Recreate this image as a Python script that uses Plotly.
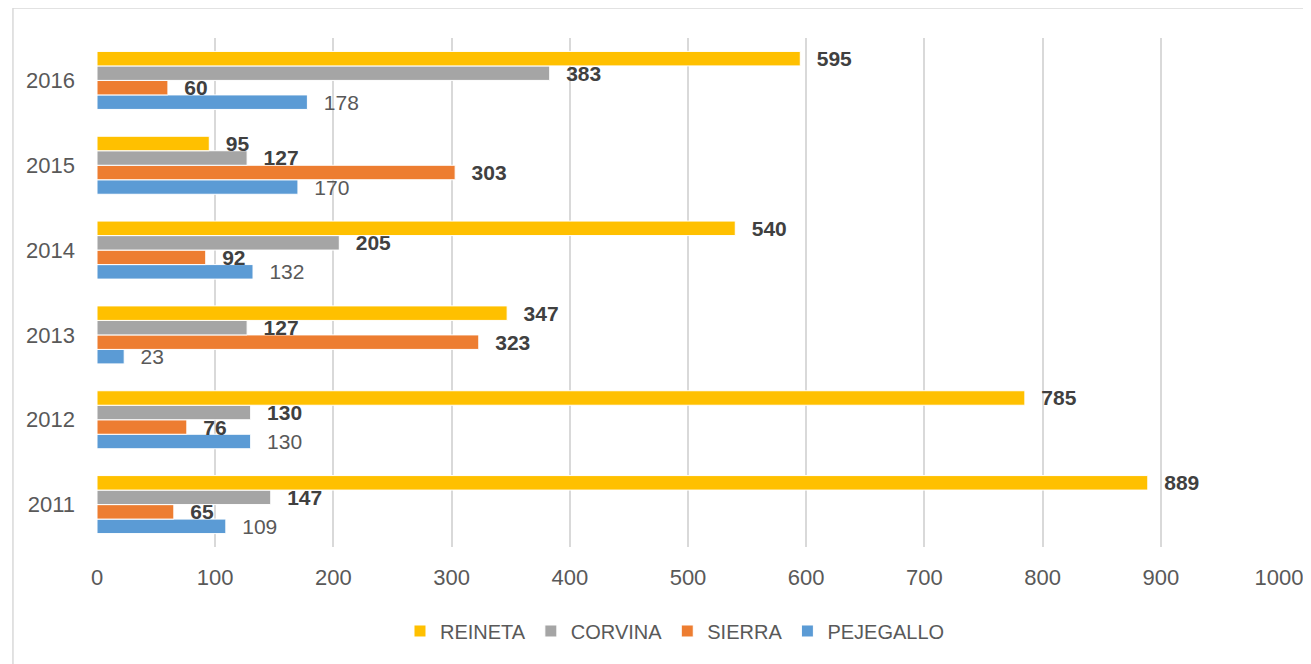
import plotly.graph_objects as go

years = ["2011", "2012", "2013", "2014", "2015", "2016"]
reineta = [889, 785, 347, 540, 95, 595]
corvina = [147, 130, 127, 205, 127, 383]
sierra = [65, 76, 323, 92, 303, 60]
pejegallo = [109, 130, 23, 132, 170, 178]
x_ticks = [0, 100, 200, 300, 400, 500, 600, 700, 800, 900, 1000]

FONT = "Liberation Sans Narrow, Arial Narrow, Liberation Sans, Arial, sans-serif"
PAD = "\u00a0\u00a0\u200a"

series = [
    ("PEJEGALLO", pejegallo, "#5B9BD5", False),
    ("SIERRA", sierra, "#ED7D31", True),
    ("CORVINA", corvina, "#A5A5A5", True),
    ("REINETA", reineta, "#FFC000", True),
]

fig = go.Figure()
for name, vals, color, bold in series:
    labels = [PAD + (f"<b>{v}</b>" if bold else str(v)) for v in vals]
    fig.add_trace(go.Bar(
        name=name, y=years, x=vals, orientation="h",
        marker=dict(color=color, line=dict(color="white", width=1)),
        text=labels, textposition="outside", constraintext="none",
        cliponaxis=False,
        textfont=dict(family=FONT, size=21, color="#404040" if bold else "#595959"),
    ))

fig.update_layout(
    width=1311, height=664,
    barmode="group", bargap=0.316, bargroupgap=0,
    paper_bgcolor="white", plot_bgcolor="white",
    margin=dict(l=89, r=40, t=30, b=125),
    font=dict(family=FONT, size=21, color="#595959"),
    showlegend=True,
    legend=dict(orientation="h", traceorder="reversed", x=0.489, xanchor="center",
                y=-0.165, yanchor="middle", font=dict(size=20, color="#595959"),
                itemwidth=30),
    xaxis=dict(range=[0, 1000], tickvals=x_ticks, showgrid=True, gridcolor="#D9D9D9",
               gridwidth=1.5, zeroline=False, showline=False, ticklabelstandoff=15,
               automargin=False, tickfont=dict(size=22)),
    yaxis=dict(categoryorder="array", categoryarray=years, showgrid=False,
               zeroline=False, showline=False, ticklabelstandoff=21,
               automargin=False, tickfont=dict(size=22)),
    shapes=[dict(type="rect", xref="paper", yref="paper", x0=-0.0711, x1=1.05,
                 y0=-0.3, y1=1.059, line=dict(color="#D9D9D9", width=1.5),
                 fillcolor="rgba(0,0,0,0)", layer="below")],
)

fig.write_html("out.html")
